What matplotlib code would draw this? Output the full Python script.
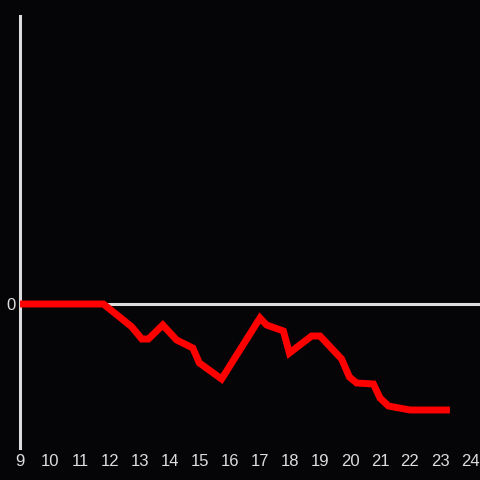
import matplotlib
matplotlib.use("Agg")
import matplotlib.pyplot as plt

hours = [9.0, 11.78, 12.72, 13.06, 13.28, 13.76, 14.22, 14.76, 14.98, 15.72,
         17.0, 17.22, 17.78, 17.98, 18.72, 19.0, 19.72, 19.98, 20.22, 20.78,
         21.0, 21.28, 22.0, 23.33]
values = [0.0, 0.0, -2.27, -3.5, -3.5, -2.1, -3.6, -4.4, -5.9, -7.5,
          -1.4, -2.1, -2.7, -4.9, -3.2, -3.2, -5.5, -7.3, -7.9, -8.0,
          -9.4, -10.2, -10.6, -10.6]
xticks = list(range(9, 25))
xtick_labels = [str(t) for t in xticks]

bg = "#050407"
fg = "#dddddd"

fig = plt.figure(figsize=(4.8, 4.8), dpi=100, facecolor=bg)
ax = fig.add_axes([20/480, 32/480, 460/480, 432/480], facecolor=bg)
ax.set_xlim(9, 9 + 460/30)
ax.set_ylim(-14.4, 28.8)

for s in ["top", "right", "bottom"]:
    ax.spines[s].set_visible(False)
ax.spines["left"].set_color(fg)
ax.spines["left"].set_linewidth(2.2)

ax.axhline(0, color=fg, lw=2.2, zorder=1)
ax.plot(hours, values, color="#ff0000", lw=5, solid_joinstyle="miter", solid_capstyle="butt", zorder=3)

ax.set_xticks(xticks)
ax.set_xticklabels(xtick_labels)
ax.set_yticks([0])
ax.set_yticklabels(["0"])
ax.tick_params(axis="both", length=0, colors=fg, labelsize=12)
ax.tick_params(axis="x", pad=4)
ax.tick_params(axis="y", pad=3)
for lab in ax.get_xticklabels() + ax.get_yticklabels():
    lab.set_family("Liberation Sans")

fig.savefig("out.png", dpi=100, facecolor=bg)
